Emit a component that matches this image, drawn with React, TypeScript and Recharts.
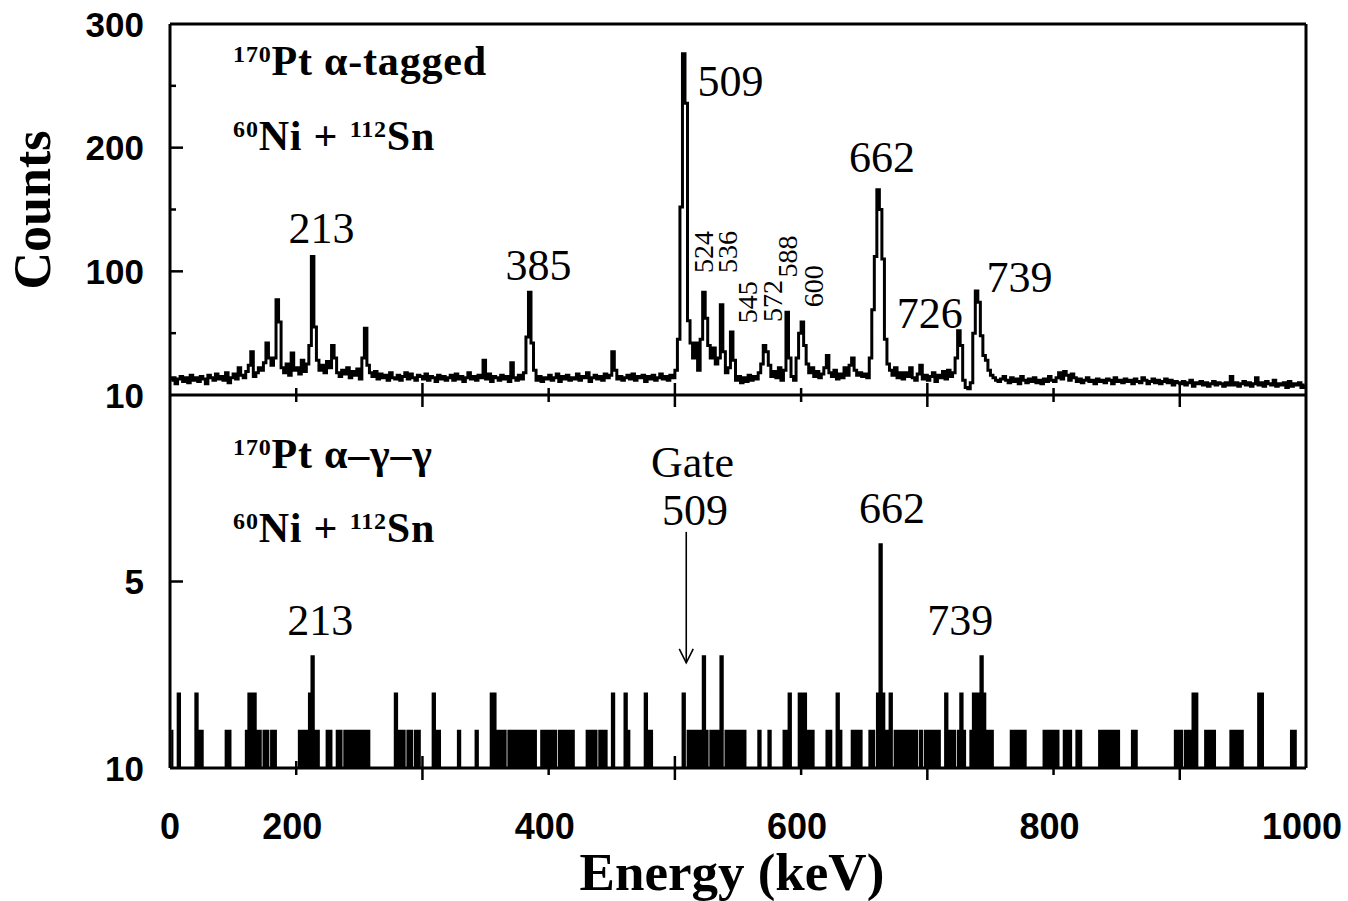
import React from 'react';
import { ComposedChart, Line, Area, XAxis, YAxis, ReferenceLine, ReferenceDot } from 'recharts';

// ---------- data ----------
const binStart = 100; // keV, first channel lower edge
const binWidth = 2; // keV per channel

// alpha-tagged singles spectrum, counts per 2 keV channel (100 .. 1000 keV)
const topCounts: number[] = [
  12, 14, 9, 13, 15, 11, 14, 10, 16, 12,
  14, 11, 15, 13, 9, 16, 14, 12, 17, 13,
  15, 12, 18, 10, 14, 17, 13, 22, 16, 14,
  19, 24, 35, 15, 18, 22, 20, 26, 42, 30,
  24, 30, 77, 59, 22, 18, 25, 16, 34, 20,
  22, 17, 28, 19, 25, 40, 112, 55, 28, 20,
  24, 18, 27, 22, 40, 30, 18, 15, 20, 17,
  22, 14, 19, 16, 21, 13, 30, 54, 24, 18,
  15, 19, 13, 17, 14, 16, 12, 18, 14, 13,
  16, 12, 15, 18, 13, 17, 14, 12, 16, 15,
  13, 17, 12, 15, 14, 11, 16, 13, 15, 12,
  14, 16, 12, 17, 13, 15, 11, 14, 18, 13,
  15, 12, 16, 14, 28, 13, 17, 11, 15, 14,
  12, 16, 13, 15, 11, 26, 14, 12, 16, 13,
  18, 47, 83, 42, 20, 12, 15, 11, 14, 13,
  16, 12, 14, 17, 11, 15, 13, 16, 12, 14,
  13, 17, 12, 15, 14, 18, 11, 14, 16, 13,
  15, 12, 17, 14, 16, 35, 20, 13, 15, 12,
  14, 16, 13, 17, 12, 15, 14, 16, 11, 15,
  13, 16, 12, 14, 17, 13, 15, 12, 16, 14,
  20, 45, 152, 276, 236, 60, 42, 30, 42, 20,
  45, 83, 62, 40, 30, 38, 25, 30, 73, 35,
  18, 22, 51, 28, 12, 15, 10, 14, 11, 16,
  12, 15, 13, 18, 25, 40, 35, 24, 15, 19,
  14, 22, 12, 20, 67, 30, 15, 12, 30, 50,
  59, 40, 25, 18, 22, 15, 19, 14, 17, 22,
  32, 18, 15, 20, 13, 17, 14, 22, 16, 24,
  30, 20, 16, 18, 15, 17, 14, 30, 69, 112,
  166, 150, 110, 45, 25, 20, 16, 22, 14, 18,
  13, 18, 15, 22, 14, 12, 17, 24, 13, 16,
  12, 15, 18, 11, 16, 14, 19, 13, 20, 15,
  18, 30, 52, 40, 12, 6, 5, 10, 50, 84,
  75, 48, 32, 28, 20, 16, 14, 12, 11, 13,
  15, 12, 10, 14, 11, 13, 9, 15, 12, 10,
  13, 11, 14, 10, 12, 9, 13, 11, 15, 12,
  11, 14, 18, 13, 19, 16, 12, 17, 14, 11,
  13, 10, 12, 14, 11, 12, 9, 13, 11, 12,
  10, 13, 12, 9, 14, 11, 12, 10, 13, 11,
  12, 9, 13, 11, 10, 14, 12, 9, 11, 13,
  10, 12, 9, 11, 13, 10, 12, 8, 11, 10,
  9, 11, 8, 10, 12, 7, 10, 9, 11, 8,
  10, 7, 9, 11, 8, 10, 9, 7, 10, 8,
  15, 8, 10, 7, 9, 11, 8, 10, 7, 9,
  14, 8, 10, 7, 11, 9, 8, 12, 7, 9,
  8, 10, 6, 11, 7, 9, 8, 10, 6, 8,
];

// alpha-gamma-gamma (gate 509 keV): non-empty channels (lower edge keV) and counts
const gateEnergies: number[] = [
  100, 106, 120, 122, 124, 144, 146, 160, 162, 164, 166, 168, 170, 174, 176, 180, 182,
  202, 204, 206, 208, 210, 212, 214, 216, 224, 226, 232, 234, 238, 240, 242, 244, 246, 248, 250, 252, 254, 256,
  278, 280, 282, 284, 288, 290, 294, 296, 308, 310, 312, 328, 342,
  354, 356, 358, 360, 362, 364, 368, 370, 372, 374, 376, 378, 380, 382, 384, 386, 388,
  394, 396, 398, 400, 402, 404, 408, 410, 412, 414, 416, 418,
  430, 432, 434, 436, 440, 442, 444, 450, 460, 462, 476, 478, 480,
  506, 510, 512, 514, 516, 518, 520, 522, 524, 528, 530, 532, 534, 536, 540, 542, 544, 546, 548, 550, 552, 554,
  566, 574, 586, 588, 590, 598, 600, 602, 604, 606, 608, 620, 622, 628, 630, 640, 642, 644, 646,
  654, 656, 660, 662, 664, 666, 668, 670, 674, 676, 678, 680, 682, 684, 686, 688, 690, 694,
  698, 700, 702, 704, 706, 708, 714, 716, 718, 720, 724, 726, 728,
  734, 736, 738, 740, 742, 744, 746, 748, 750,
  766, 768, 770, 772, 774, 776, 792, 794, 796, 798, 800, 802, 808, 810, 812, 818, 820,
  836, 838, 840, 842, 844, 846, 848, 850, 862, 864,
  896, 898, 900, 904, 906, 908, 910, 912, 920, 922, 924, 926, 940, 942, 944, 946, 948, 962, 964, 988, 990,
];
const gateCounts: number[] = [
  1, 2, 2, 1, 1, 1, 1, 1, 2, 2, 2, 1, 1, 1, 1, 1, 1,
  1, 1, 1, 1, 2, 3, 1, 1, 1, 1, 1, 1, 1, 1, 1, 1, 1, 1, 1, 1, 1, 1,
  2, 1, 1, 1, 1, 1, 1, 1, 2, 1, 1, 1, 1,
  2, 2, 1, 1, 1, 1, 1, 1, 1, 1, 1, 1, 1, 1, 1, 1, 1,
  1, 1, 1, 1, 1, 1, 1, 1, 1, 1, 1, 1,
  1, 1, 1, 1, 1, 1, 1, 2, 2, 1, 2, 1, 1,
  2, 1, 1, 1, 1, 1, 1, 3, 1, 1, 1, 1, 1, 3, 1, 1, 1, 1, 1, 1, 1, 1,
  1, 1, 1, 1, 2, 2, 2, 2, 1, 1, 1, 1, 1, 2, 1, 1, 1, 1, 1,
  1, 1, 2, 6, 2, 1, 1, 2, 1, 1, 1, 1, 1, 1, 1, 1, 1, 1,
  1, 1, 1, 1, 1, 1, 2, 1, 1, 1, 1, 2, 1,
  1, 2, 2, 2, 3, 2, 1, 1, 1,
  1, 1, 1, 1, 1, 1, 1, 1, 1, 1, 1, 1, 1, 1, 1, 1, 1,
  1, 1, 1, 1, 1, 1, 1, 1, 1, 1,
  1, 1, 1, 1, 1, 1, 2, 2, 1, 1, 1, 1, 1, 1, 1, 1, 1, 2, 2, 1, 1,
];

const xTicks = [100, 200, 300, 400, 500, 600, 700, 800, 900, 1000];
const xTickLabels = ['0', '200', '', '400', '', '600', '', '800', '', '1000'];
const xLongTicks = [300, 500, 700, 900];

const topYTicks = [0, 50, 100, 150, 200, 250, 300];
const topYTickLabels = ['', '', '100', '', '200', '', '300'];
const topYMajor = [100, 200];
const botYTicks = [0, 5, 10];
const botYTickLabels = ['10', '5', '10'];
const botYMajor = [5];

const topPeakLabels = [
  { text: '213', e: 220, c: 123, anchor: 'middle' },
  { text: '385', e: 392, c: 93, anchor: 'middle' },
  { text: '509', e: 518, c: 242, anchor: 'start' },
  { text: '662', e: 664, c: 180, anchor: 'middle' },
  { text: '726', e: 702, c: 54, anchor: 'middle' },
  { text: '739', e: 773, c: 83, anchor: 'middle' },
];
const topSmallLabels = [
  { text: '524', e: 530, c: 98.6 },
  { text: '536', e: 549, c: 98.6 },
  { text: '545', e: 565, c: 58 },
  { text: '572', e: 585, c: 59 },
  { text: '588', e: 597, c: 95 },
  { text: '600', e: 617, c: 71 },
];
const botPeakLabels = [
  { text: '213', e: 219, c: 3.57 },
  { text: 'Gate', e: 514, c: 7.8 },
  { text: '509', e: 516, c: 6.52 },
  { text: '662', e: 672, c: 6.57 },
  { text: '739', e: 726, c: 3.57 },
];
const gateEnergy = 509;

// ---------- tables ----------
const gateMap = new Map<number, number>(gateEnergies.map((e, i) => [e, gateCounts[i]]));
const topData = topCounts.map((c, i) => ({ e: binStart + binWidth * i + binWidth / 2, c }));
const botData = topCounts.map((_, i) => {
  const lo = binStart + binWidth * i;
  return { e: lo + binWidth / 2, c: gateMap.get(lo) ?? 0 };
});

// ---------- styles ----------
const SERIF = '"Liberation Serif", "Times New Roman", Times, serif';
const SANS = '"Liberation Sans", Arial, Helvetica, sans-serif';
const INK = '#000';

const makeXTick = (showLabels: boolean) => (props: any) => {
  const { x, y, payload } = props;
  const v = payload.value;
  const idx = xTicks.indexOf(v);
  const label = xTickLabels[idx];
  const edge = v === xTicks[0] || v === xTicks[xTicks.length - 1];
  const len = xLongTicks.includes(v) ? 12 : 7;
  return (
    <g>
      {!edge && <line x1={x} x2={x} y1={y - len} y2={y + len} stroke={INK} strokeWidth={2.5} />}
      {showLabels && label && (
        <text x={idx === 0 ? x : x - 4} y={y + 71} textAnchor="middle" fontFamily={SANS} fontWeight="bold" fontSize={36} fill={INK}>
          {label}
        </text>
      )}
    </g>
  );
};

const makeYTick = (ticks: number[], labels: string[], majors: number[]) => (props: any) => {
  const { x, y, payload } = props;
  const v = payload.value;
  const idx = ticks.indexOf(v);
  const edge = idx === 0 || idx === ticks.length - 1;
  const len = majors.includes(v) ? 13 : 6;
  const label = labels[idx];
  return (
    <g>
      {!edge && <line x1={x} x2={x + len} y1={y} y2={y} stroke={INK} strokeWidth={2.5} />}
      {label && (
        <text x={x - 26} y={y + 12.5} textAnchor="end" fontFamily={SANS} fontWeight="bold" fontSize={35} fill={INK}>
          {label}
        </text>
      )}
    </g>
  );
};

const IsoLine = ({ cx, cy, parts }: { cx: number; cy: number; parts: [string, boolean][] }) => (
  <text x={cx} y={cy} fontFamily={SERIF} fontWeight="bold" fill={INK} style={{ whiteSpace: 'pre' }} letterSpacing={0.8}>
    {parts.map(([t, sup], i) => (
      <tspan key={i} fontSize={sup ? 24 : 42} dy={sup ? -13 : i === 0 ? 0 : 13}>
        {t}
      </tspan>
    ))}
  </text>
);

const annot = (e: number, c: number, render: (cx: number, cy: number) => React.ReactElement, key: string) => (
  <ReferenceDot
    key={key}
    x={e}
    y={c}
    r={0}
    ifOverflow="visible"
    shape={(p: any) => render(p.cx, p.cy)}
  />
);

export default function App() {
  const axisStyle = { stroke: INK, strokeWidth: 3 };
  return (
    <div style={{ position: 'absolute', left: 0, top: 0, width: 1348, height: 901, background: '#fff', overflow: 'hidden' }}>
      <div style={{ position: 'absolute', left: 0, top: 0 }}>
        <ComposedChart width={1348} height={440} data={topData} margin={{ top: 24, right: 42, bottom: 0, left: 0 }}>
          <XAxis
            dataKey="e"
            type="number"
            domain={[100, 1000]}
            ticks={xTicks}
            interval={0}
            height={45}
            tickSize={0}
            tickMargin={0}
            tickLine={false}
            axisLine={axisStyle}
            tick={makeXTick(false)}
          />
          <YAxis
            type="number"
            domain={[0, 300]}
            ticks={topYTicks}
            interval={0}
            width={170}
            tickSize={0}
            tickMargin={0}
            tickLine={false}
            axisLine={axisStyle}
            tick={makeYTick(topYTicks, topYTickLabels, topYMajor)}
          />
          <ReferenceLine y={300} stroke={INK} strokeWidth={3} />
          <ReferenceLine x={1000} stroke={INK} strokeWidth={3} />
          <Line type="step" dataKey="c" stroke={INK} strokeWidth={3} dot={false} activeDot={false} isAnimationActive={false} />
          {annot(150, 258.7, (cx, cy) => <IsoLine cx={cx} cy={cy} parts={[['170', true], ['Pt α-tagged', false]]} />, 'iso1')}
          {annot(150, 198, (cx, cy) => <IsoLine cx={cx} cy={cy} parts={[['60', true], ['Ni + ', false], ['112', true], ['Sn', false]]} />, 'iso2')}
          {topPeakLabels.map((l) =>
            annot(l.e, l.c, (cx, cy) => (
              <text x={cx} y={cy} textAnchor={l.anchor as any} fontFamily={SERIF} fontSize={44} fill={INK}>
                {l.text}
              </text>
            ), 'tp' + l.text)
          )}
          {topSmallLabels.map((l) =>
            annot(l.e, l.c, (cx, cy) => (
              <text x={cx} y={cy} transform={`rotate(-90 ${cx} ${cy})`} textAnchor="start" fontFamily={SERIF} fontSize={28} fill={INK}>
                {l.text}
              </text>
            ), 'ts' + l.text)
          )}
          {annot(4.9, 149.6, (cx, cy) => (
            <text x={cx} y={cy} transform={`rotate(-90 ${cx} ${cy})`} textAnchor="middle" fontFamily={SERIF} fontWeight="bold" fontSize={52} fill={INK}>
              Counts
            </text>
          ), 'counts')}
        </ComposedChart>
      </div>
      <div style={{ position: 'absolute', left: 0, top: 350 }}>
        <ComposedChart width={1348} height={551} data={botData} margin={{ top: 45, right: 42, bottom: 0, left: 0 }}>
          <XAxis
            dataKey="e"
            type="number"
            domain={[100, 1000]}
            ticks={xTicks}
            interval={0}
            height={133}
            tickSize={0}
            tickMargin={0}
            tickLine={false}
            axisLine={axisStyle}
            tick={makeXTick(true)}
          />
          <YAxis
            type="number"
            domain={[0, 10]}
            ticks={botYTicks}
            interval={0}
            width={170}
            tickSize={0}
            tickMargin={0}
            tickLine={false}
            axisLine={axisStyle}
            tick={makeYTick(botYTicks, botYTickLabels, botYMajor)}
          />
          <ReferenceLine x={1000} stroke={INK} strokeWidth={3} />
          <Area
            type="step"
            dataKey="c"
            stroke={INK}
            strokeWidth={1.8}
            fill={INK}
            fillOpacity={1}
            dot={false}
            activeDot={false}
            isAnimationActive={false}
          />
          <ReferenceLine segment={[{ x: gateEnergy, y: 6.33 }, { x: gateEnergy, y: 2.82 }]} stroke={INK} strokeWidth={1.6} />
          {annot(gateEnergy, 2.82, (cx, cy) => (
            <polyline points={`${cx - 7},${cy - 14} ${cx},${cy} ${cx + 7},${cy - 14}`} fill="none" stroke={INK} strokeWidth={1.6} />
          ), 'arrow')}
          {annot(150, 8.04, (cx, cy) => <IsoLine cx={cx} cy={cy} parts={[['170', true], ['Pt α–γ–γ', false]]} />, 'iso3')}
          {annot(150, 6.06, (cx, cy) => <IsoLine cx={cx} cy={cy} parts={[['60', true], ['Ni + ', false], ['112', true], ['Sn', false]]} />, 'iso4')}
          {botPeakLabels.map((l) =>
            annot(l.e, l.c, (cx, cy) => (
              <text x={cx} y={cy} textAnchor="middle" fontFamily={SERIF} fontSize={44} fill={INK}>
                {l.text}
              </text>
            ), 'bp' + l.text)
          )}
          {annot(545.2, -3.27, (cx, cy) => (
            <text x={cx} y={cy} textAnchor="middle" fontFamily={SERIF} fontWeight="bold" fontSize={53} fill={INK}>
              Energy (keV)
            </text>
          ), 'energy')}
        </ComposedChart>
      </div>
    </div>
  );
}
